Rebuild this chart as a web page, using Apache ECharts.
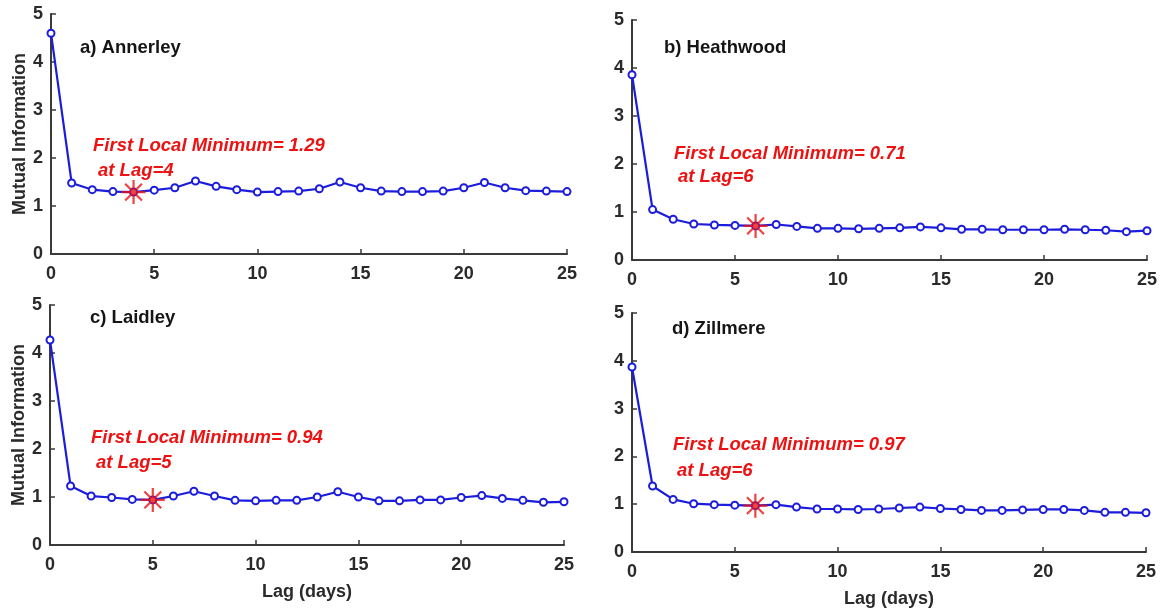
<!DOCTYPE html>
<html>
<head>
<meta charset="utf-8">
<style>
  html, body { margin: 0; padding: 0; background: #ffffff; }
  #chart { width: 1166px; height: 613px; }
</style>
<script src="https://cdn.jsdelivr.net/npm/echarts@6/dist/echarts.min.js"></script>
</head>
<body>
<div id="chart"></div>
<script>
// Lag in days
const lags = [0, 1, 2, 3, 4, 5, 6, 7, 8, 9, 10, 11, 12, 13, 14, 15, 16, 17, 18, 19, 20, 21, 22, 23, 24, 25];

// Mutual information per station
const annerley  = [4.60, 1.48, 1.34, 1.30, 1.29, 1.33, 1.38, 1.52, 1.41, 1.34, 1.29, 1.30, 1.31, 1.36, 1.50, 1.38, 1.31, 1.30, 1.30, 1.31, 1.38, 1.49, 1.38, 1.32, 1.31, 1.30];
const heathwood = [3.86, 1.05, 0.85, 0.75, 0.73, 0.72, 0.71, 0.74, 0.70, 0.66, 0.66, 0.65, 0.66, 0.67, 0.69, 0.67, 0.64, 0.64, 0.63, 0.63, 0.63, 0.64, 0.63, 0.62, 0.59, 0.61];
const laidley   = [4.27, 1.23, 1.02, 0.99, 0.95, 0.94, 1.02, 1.12, 1.02, 0.93, 0.92, 0.93, 0.93, 1.00, 1.11, 1.00, 0.92, 0.92, 0.94, 0.94, 0.99, 1.03, 0.97, 0.93, 0.89, 0.90];
const zillmere  = [3.87, 1.38, 1.10, 1.01, 0.99, 0.98, 0.97, 0.99, 0.94, 0.90, 0.90, 0.89, 0.90, 0.92, 0.94, 0.91, 0.89, 0.87, 0.87, 0.88, 0.89, 0.89, 0.87, 0.83, 0.83, 0.82];

// Panel titles and first local minimum (lag, value)
const panelTitles = ['a) Annerley', 'b) Heathwood', 'c) Laidley', 'd) Zillmere'];
const minLags   = [4, 6, 5, 6];
const minValues = [1.29, 0.71, 0.94, 0.97];

// Axis labels
const yAxisName = 'Mutual Information';
const xAxisName = 'Lag (days)';

const stations = [annerley, heathwood, laidley, zillmere];

const FONT = 'Arial, "Liberation Sans", Helvetica, sans-serif';
const AXIS_COLOR = '#3a3a3a';
const TEXT_COLOR = '#2a2a2a';
const LINE_BLUE = '#1c1cdc';
const STAR_RED = '#ee1111';

// Plot-area boxes: left, top, width, height
const boxes = [
  { left: 51,  top: 14,  width: 516, height: 240 },
  { left: 632, top: 20,  width: 515, height: 240 },
  { left: 50,  top: 305, width: 514, height: 240 },
  { left: 632, top: 313, width: 514, height: 239 }
];

// Title and annotation positions per panel
const titlePos = [[80, 38.5], [664, 38.5], [90, 308.5], [672, 319.5]];
const notePos  = [[93, 136.5], [674, 144.5], [91, 428.5], [673, 435.5]];
const notePos2 = [[98, 161.5], [678, 167.5], [96, 453.5], [677, 461.5]];

const grids = [], xAxes = [], yAxes = [], series = [], graphics = [];

// Eight-armed asterisk for the minimum marker
const starPath = 'path://M10,0 L10,20 M0,10 L20,10 M3,3 L17,17 M3,17 L17,3';

const tickLabel = { fontFamily: FONT, fontWeight: 'bold', fontSize: 18, color: TEXT_COLOR };
const axisName = { fontFamily: FONT, fontWeight: 'bold', fontSize: 18, color: TEXT_COLOR };

boxes.forEach((b, i) => {
  grids.push({ left: b.left, top: b.top, width: b.width, height: b.height, containLabel: false });

  xAxes.push({
    gridIndex: i, type: 'value', min: 0, max: 25, interval: 5,
    name: i >= 2 ? xAxisName : '',
    nameLocation: 'middle', nameGap: 38,
    nameTextStyle: axisName,
    axisLine: { show: true, onZero: false, lineStyle: { color: AXIS_COLOR, width: 2 } },
    axisTick: { show: true, inside: true, length: 5, lineStyle: { color: AXIS_COLOR, width: 1.5 } },
    axisLabel: Object.assign({ margin: 11 }, tickLabel),
    splitLine: { show: false }
  });

  yAxes.push({
    gridIndex: i, type: 'value', min: 0, max: 5, interval: 1,
    name: (i % 2 === 0) ? yAxisName : '',
    nameLocation: 'middle', nameGap: 22,
    nameTextStyle: axisName,
    axisLine: { show: true, onZero: false, lineStyle: { color: AXIS_COLOR, width: 2 } },
    axisTick: { show: true, inside: true, length: 5, lineStyle: { color: AXIS_COLOR, width: 1.5 } },
    axisLabel: Object.assign({ margin: 8 }, tickLabel),
    splitLine: { show: false }
  });

  series.push({
    type: 'line', xAxisIndex: i, yAxisIndex: i,
    data: lags.map((lag, k) => [lag, stations[i][k]]),
    symbol: 'emptyCircle', symbolSize: 7, showAllSymbol: true,
    lineStyle: { color: LINE_BLUE, width: 2.2 },
    itemStyle: { color: LINE_BLUE, borderColor: LINE_BLUE, borderWidth: 2 },
    emphasis: { disabled: true },
    animation: false, z: 2
  });

  series.push({
    type: 'scatter', xAxisIndex: i, yAxisIndex: i,
    data: [[minLags[i], minValues[i]]],
    symbol: starPath, symbolSize: 24,
    itemStyle: { color: 'rgba(0,0,0,0)', borderColor: STAR_RED, borderWidth: 2.2 },
    emphasis: { disabled: true },
    animation: false, z: 5
  });

  graphics.push({
    type: 'text', left: titlePos[i][0], top: titlePos[i][1],
    style: { text: panelTitles[i], fontFamily: FONT, fontWeight: 'bold', fontSize: 18.5, fill: '#151515' }
  });
  graphics.push({
    type: 'text', left: notePos[i][0], top: notePos[i][1],
    style: { text: 'First Local Minimum= ' + minValues[i].toFixed(2), fontFamily: FONT, fontWeight: 'bold', fontStyle: 'italic', fontSize: 18.5, fill: STAR_RED }
  });
  graphics.push({
    type: 'text', left: notePos2[i][0], top: notePos2[i][1],
    style: { text: 'at Lag=' + minLags[i], fontFamily: FONT, fontWeight: 'bold', fontStyle: 'italic', fontSize: 18.5, fill: STAR_RED }
  });
});

const chart = echarts.init(document.getElementById('chart'), null, { renderer: 'canvas' });
chart.setOption({
  backgroundColor: '#ffffff',
  animation: false,
  grid: grids,
  xAxis: xAxes,
  yAxis: yAxes,
  series: series,
  graphic: graphics
});
</script>
</body>
</html>
